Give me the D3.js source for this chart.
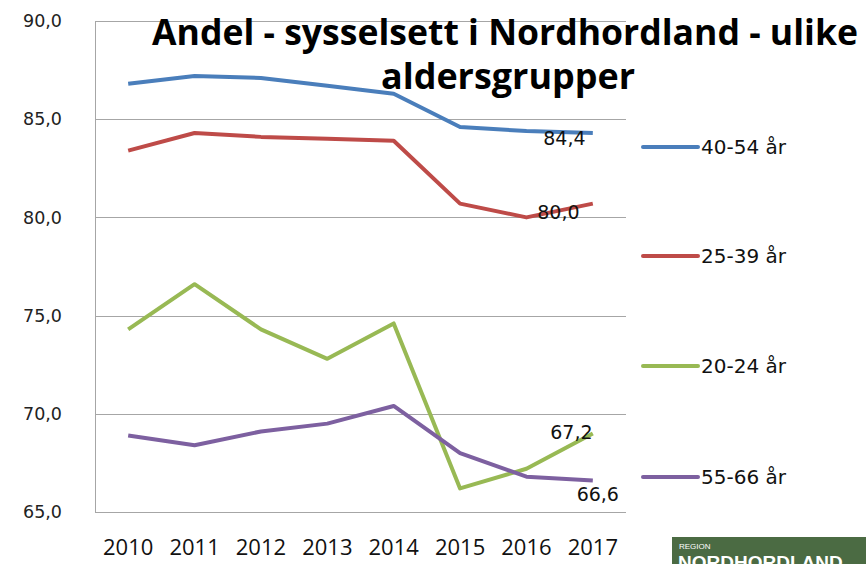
<!DOCTYPE html>
<html>
<head>
<meta charset="utf-8">
<script src="https://cdn.jsdelivr.net/npm/d3@7"></script>
<style>
  body { margin: 0; background: #fff; }
  svg { display: block; }
</style>
</head>
<body>
<div id="chart"></div>
<script>
// data
var years = ["2010", "2011", "2012", "2013", "2014", "2015", "2016", "2017"];
var seriesNames = ["40-54 år", "25-39 år", "20-24 år", "55-66 år"];
var age4054 = [86.8, 87.2, 87.1, 86.7, 86.3, 84.6, 84.4, 84.3];
var age2539 = [83.4, 84.3, 84.1, 84.0, 83.9, 80.7, 80.0, 80.7];
var age2024 = [74.3, 76.6, 74.3, 72.8, 74.6, 66.2, 67.2, 69.0];
var age5566 = [68.9, 68.4, 69.1, 69.5, 70.4, 68.0, 66.8, 66.6];
var yTicks = [65, 70, 75, 80, 85, 90];
// which point gets a value label, with label offset from the point
var labelled = [
  {s: 0, i: 6, text: "84,4", dx: 38, dy: 7},
  {s: 1, i: 6, text: "80,0", dx: 32, dy: -5},
  {s: 2, i: 6, text: "67,2", dx: 45, dy: -36},
  {s: 3, i: 7, text: "66,6", dx: 5, dy: 14}
];

var colors = ["#4a7ebb", "#be4b48", "#98b954", "#7d60a0"];
var allSeries = [age4054, age2539, age2024, age5566];

var width = 866, height = 564;
var margin = {left: 95, right: 240, top: 21, bottom: 52};

var svg = d3.select("#chart").append("svg")
    .attr("width", width)
    .attr("height", height);

var x = d3.scalePoint()
    .domain(years)
    .range([margin.left, width - margin.right])
    .padding(0.5);

var y = d3.scaleLinear()
    .domain([65, 90])
    .range([height - margin.bottom, margin.top]);

var axisFont = "'DejaVu Sans', Verdana, sans-serif";
var calibriLike = "'Liberation Sans Narrow', 'Open Sans', sans-serif";

// gridlines
svg.append("g")
    .selectAll("line")
    .data(yTicks)
    .enter().append("line")
    .attr("x1", margin.left)
    .attr("x2", width - margin.right)
    .attr("y1", function(d) { return Math.round(y(d)) + 0.5; })
    .attr("y2", function(d) { return Math.round(y(d)) + 0.5; })
    .attr("stroke", "#a6a6a6")
    .attr("stroke-width", 1);

// left axis line
svg.append("line")
    .attr("x1", margin.left + 0.5).attr("x2", margin.left + 0.5)
    .attr("y1", y(90)).attr("y2", y(65))
    .attr("stroke", "#a6a6a6");

// y labels
svg.append("g")
    .selectAll("text")
    .data(yTicks)
    .enter().append("text")
    .attr("x", 62)
    .attr("y", function(d) { return y(d); })
    .attr("dy", "0.35em")
    .attr("text-anchor", "end")
    .style("font-family", axisFont)
    .style("font-size", "17.5px")
    .attr("fill", "#222")
    .text(function(d) { return d.toFixed(1).replace(".", ","); });

// x labels
svg.append("g")
    .selectAll("text")
    .data(years)
    .enter().append("text")
    .attr("x", function(d) { return x(d); })
    .attr("y", 555)
    .attr("text-anchor", "middle")
    .style("font-family", calibriLike)
    .style("font-size", "22px")
    .attr("fill", "#111")
    .text(function(d) { return d; });

// lines
var line = d3.line()
    .x(function(d, i) { return x(years[i]); })
    .y(function(d) { return y(d); });

svg.append("g")
    .selectAll("path")
    .data(allSeries)
    .enter().append("path")
    .attr("d", line)
    .attr("fill", "none")
    .attr("stroke", function(d, i) { return colors[i]; })
    .attr("stroke-width", 4)
    .attr("stroke-linejoin", "round");

// value labels
svg.append("g")
    .selectAll("text")
    .data(labelled)
    .enter().append("text")
    .attr("x", function(d) { return x(years[d.i]) + d.dx; })
    .attr("y", function(d) { return y(allSeries[d.s][d.i]) + d.dy; })
    .attr("dy", "0.35em")
    .attr("text-anchor", "middle")
    .style("font-family", axisFont)
    .style("font-size", "19px")
    .attr("fill", "#111")
    .text(function(d) { return d.text; });

// legend
var legendY = [147, 256, 366, 477];
var legend = svg.append("g")
    .selectAll("g")
    .data(seriesNames)
    .enter().append("g")
    .attr("transform", function(d, i) { return "translate(643," + legendY[i] + ")"; });

legend.append("line")
    .attr("x1", 0).attr("x2", 55)
    .attr("stroke", function(d, i) { return colors[i]; })
    .attr("stroke-width", 4)
    .attr("stroke-linecap", "round");

legend.append("text")
    .attr("x", 58)
    .attr("dy", "0.35em")
    .style("font-family", axisFont)
    .style("font-size", "20px")
    .attr("fill", "#111")
    .text(function(d) { return d; });

// title
svg.append("text")
    .attr("x", 505)
    .attr("y", 45)
    .attr("text-anchor", "middle")
    .attr("textLength", 706)
    .attr("lengthAdjust", "spacingAndGlyphs")
    .style("font-family", calibriLike)
    .style("font-weight", "bold")
    .style("font-size", "35px")
    .attr("fill", "#000")
    .text("Andel - sysselsett i Nordhordland - ulike");

svg.append("text")
    .attr("x", 508)
    .attr("y", 89)
    .attr("text-anchor", "middle")
    .attr("textLength", 254)
    .attr("lengthAdjust", "spacingAndGlyphs")
    .style("font-family", calibriLike)
    .style("font-weight", "bold")
    .style("font-size", "35px")
    .attr("fill", "#000")
    .text("aldersgrupper");

// logo block bottom right
var logo = svg.append("g").attr("transform", "translate(672,537)");
logo.append("rect")
    .attr("width", 194).attr("height", 27)
    .attr("fill", "#4b6b43");
logo.append("text")
    .attr("x", 7).attr("y", 12)
    .style("font-family", "'Liberation Sans', sans-serif")
    .style("font-size", "8px")
    .attr("fill", "#fff")
    .text("REGION");
logo.append("text")
    .attr("x", 6).attr("y", 32)
    .style("font-family", "'Liberation Sans', sans-serif")
    .style("font-weight", "bold")
    .style("font-size", "19px")
    .attr("fill", "#fff")
    .text("NORDHORDLAND");
</script>
</body>
</html>
